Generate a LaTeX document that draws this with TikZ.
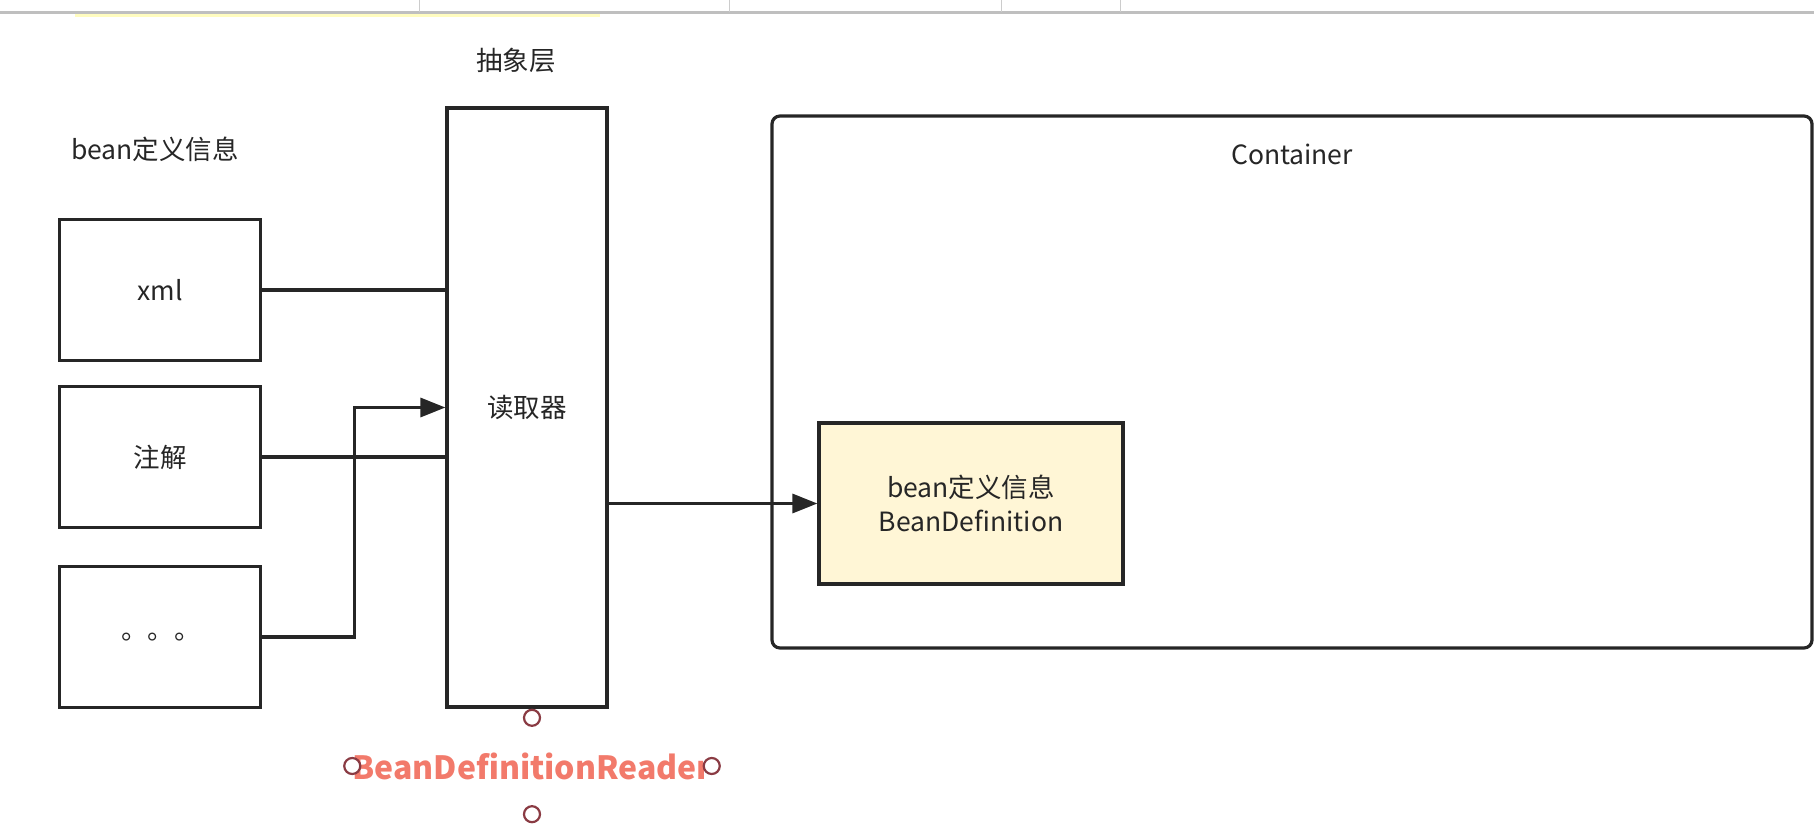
\documentclass[tikz,border=0pt]{standalone}
\usepackage{fontspec}
\setmainfont{Noto Sans CJK SC}
\usepackage{xcolor}
\usetikzlibrary{arrows.meta, positioning}
\definecolor{ink}{HTML}{262626}
\definecolor{notefill}{HTML}{FFF6D6}
\definecolor{salmon}{HTML}{F27A6B}
\definecolor{handlered}{HTML}{8A3B43}

\begin{document}
\begin{tikzpicture}[x=1pt, y=-1pt,
  source/.style={draw=ink, line width=3.2pt, minimum width=201pt, minimum height=141pt, font=\fontsize{26.5}{32}\selectfont, text=ink},
  reader/.style={draw=ink, line width=3.2pt, minimum width=160pt, minimum height=599pt, font=\fontsize{26.5}{32}\selectfont, text=ink},
  container/.style={draw=ink, line width=3.2pt, rounded corners=8pt, minimum width=1040pt, minimum height=532pt},
  beandef/.style={draw=ink, fill=notefill, line width=3.2pt, minimum width=304pt, minimum height=161pt, align=center, font=\fontsize{26.5}{34}\selectfont, text=ink},
  caption/.style={font=\fontsize{26.5}{32}\selectfont, text=ink},
  readername/.style={font=\fontsize{32}{36}\selectfont\bfseries, text=salmon, minimum width=358pt, minimum height=96pt, inner sep=0pt},
  handle/.style={circle, draw=handlered, line width=2.2pt, fill=white, minimum size=16pt, inner sep=0pt},
  wire/.style={draw=ink, line width=3.2pt},
  arrow/.style={-{Triangle[length=25pt, width=19pt]}, draw=ink, line width=3.2pt},
]
  \useasboundingbox (0,0) rectangle (1814,838);

  % toolbar strip of the window
  \fill[yellow!25] (75,13) rectangle (600,17);
  \draw[black!25, line width=3pt] (0,12) -- (1814,12);
  \foreach \x in {419,729,1001,1120}
    \draw[black!20, line width=1pt] (\x,0) -- (\x,12);

  \node[caption] (srctitle) at (155,149) {bean定义信息};
  \node[caption] (layer)    at (516,60)  {抽象层};

  \node[source] (xml)  at (160,290) {xml};
  \node[source] (anno) at (160,457) {注解};
  \node[source] (dots) at (160,637) {\hspace*{2pt}。。。};

  \node[reader] (rd) at (527,407.5) {读取器};

  \node[container] (box) at (1292,382) {};
  \node[caption, below=26pt of box.north] (boxtitle) {Container};
  \node[beandef] (bd) at (971,503.5) {bean定义信息\\BeanDefinition};

  \draw[wire] (xml.east) -- (xml.east -| rd.west);
  \draw[wire] (anno.east) -- (anno.east -| rd.west);
  \draw[arrow] (dots.east) -- ++(92,0) |- (rd.west);
  \draw[arrow] (rd.east |- bd.west) -- (bd.west);

  \node[readername] (rdname) at (532,766) {BeanDefinitionReader};
  \foreach \a in {north,south,east,west}
    \node[handle] (h-\a) at (rdname.\a) {};
\end{tikzpicture}
\end{document}
